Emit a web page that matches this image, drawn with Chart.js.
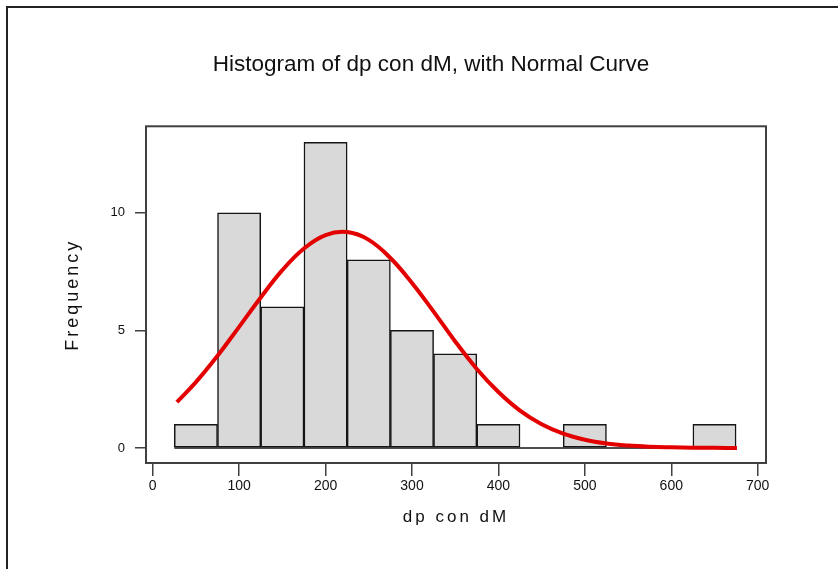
<!DOCTYPE html>
<html>
<head>
<meta charset="utf-8">
<script src="https://cdn.jsdelivr.net/npm/chart.js@4"></script>
<style>
  html, body { margin: 0; padding: 0; background: #fff; }
  #wrap { position: relative; width: 838px; height: 569px; overflow: hidden; }
  #edge { position: absolute; left: 6px; top: 6px; right: -10px; bottom: -10px;
          border-left: 2px solid #222; border-top: 2px solid #222; pointer-events: none; }
</style>
</head>
<body>
<div id="wrap">
  <canvas id="c" width="838" height="569"></canvas>
  <div id="edge"></div>
</div>
<script>
// ---- data ----
const binCenters  = [50, 100, 150, 200, 250, 300, 350, 400, 450, 500, 550, 600, 650];
const frequencies = [1, 10, 6, 13, 8, 5, 4, 1, 0, 1, 0, 0, 1];
const histRange   = [25, 675];           // outer edges of the histogram bins
const curveX = [28, 50, 75, 100, 125, 150, 175, 200, 225, 250, 275, 300, 325, 350, 375,
                400, 425, 450, 475, 500, 525, 550, 575, 600, 625, 650, 676];
const curveY = [1.95, 2.8, 3.92, 5.15, 6.4, 7.56, 8.48, 9.05, 9.18, 8.85, 8.08, 7.02, 5.8, 4.53, 3.36,
                2.38, 1.59, 1.01, 0.61, 0.35, 0.19, 0.1, 0.05, 0.025, 0.01, 0.005, 0];
const xTickStep = 100;
const yTickStep = 5;
const titleText  = 'Histogram of dp con dM, with Normal Curve';
const xTitleText = 'dp con dM';
const yTitleText = 'Frequency';

const FONT = "'Liberation Sans', Arial, sans-serif";
const INK = '#111';
const AXIS = '#404040';

const barData   = binCenters.map((x, i) => ({ x: x, y: frequencies[i] }));
const curveData = curveX.map((x, i) => ({ x: x, y: curveY[i] }));
const baseData  = histRange.map(x => ({ x: x, y: 0 }));

const framePlugin = {
  id: 'frame',
  beforeDatasetsDraw(chart) {
    const { ctx, chartArea: a } = chart;
    ctx.save();
    ctx.strokeStyle = AXIS;
    ctx.lineWidth = 2;
    ctx.strokeRect(a.left, a.top, a.right - a.left, a.bottom - a.top);
    ctx.restore();
    // axis titles are drawn after the datasets: give them the wide spacing of the original
    ctx.letterSpacing = '3px';
  },
  afterDraw(chart) {
    chart.ctx.letterSpacing = '0px';
  }
};

new Chart(document.getElementById('c'), {
  type: 'line',
  data: {
    datasets: [
      {
        type: 'line', label: 'Normal curve', data: curveData,
        borderColor: '#e30000', borderWidth: 4, pointRadius: 0,
        tension: 0.4, fill: false, order: 0
      },
      {
        type: 'line', label: 'baseline', data: baseData,
        borderColor: '#151515', borderWidth: 1.5, pointRadius: 0, fill: false, order: 1
      },
      {
        type: 'bar', label: 'Frequency', data: barData,
        backgroundColor: '#d9d9d9', borderColor: '#151515', borderWidth: 1.5,
        borderSkipped: false, barPercentage: 1, categoryPercentage: 1, order: 2
      }
    ]
  },
  options: {
    responsive: false,
    animation: false,
    devicePixelRatio: 1,
    layout: { padding: { left: 24, right: 0, top: 0, bottom: 0 } },
    plugins: {
      legend: { display: false },
      tooltip: { enabled: false },
      title: {
        display: true, text: titleText, color: INK,
        font: { family: FONT, size: 22.5, weight: 'normal' },
        padding: { top: 51, bottom: 48.3 }
      }
    },
    scales: {
      x: {
        type: 'linear', min: -7.75, max: 709.6, offset: false,
        grid: { display: true, drawOnChartArea: false, drawTicks: true, tickLength: 13,
                color: AXIS, lineWidth: 1.5, offset: false, z: 1 },
        border: { display: false },
        ticks: { stepSize: xTickStep, includeBounds: false, autoSkip: false, maxRotation: 0,
                 color: INK, font: { family: FONT, size: 14 }, padding: 2 },
        title: { display: true, text: xTitleText, color: INK,
                 font: { family: FONT, size: 17 }, padding: { top: 0, bottom: 41 } },
        afterFit: (s) => { s.height = 106; }
      },
      y: {
        type: 'linear', position: 'left', min: -0.64, max: 13.68,
        grid: { display: true, drawOnChartArea: false, drawTicks: true, tickLength: 11,
                color: AXIS, lineWidth: 1.5, z: 1 },
        border: { display: false },
        ticks: { stepSize: yTickStep, includeBounds: false, color: INK,
                 font: { family: FONT, size: 13 }, padding: 10 },
        title: { display: true, text: yTitleText, color: INK,
                 font: { family: FONT, size: 18 }, padding: { top: 38.2, bottom: 0 } },
        afterFit: (s) => { s.width = 122; }
      },
      yRight: {
        type: 'linear', position: 'right', display: true,
        grid: { display: false }, border: { display: false },
        ticks: { display: false }, title: { display: false },
        afterFit: (s) => { s.width = 72; }
      }
    }
  },
  plugins: [framePlugin]
});
</script>
</body>
</html>
